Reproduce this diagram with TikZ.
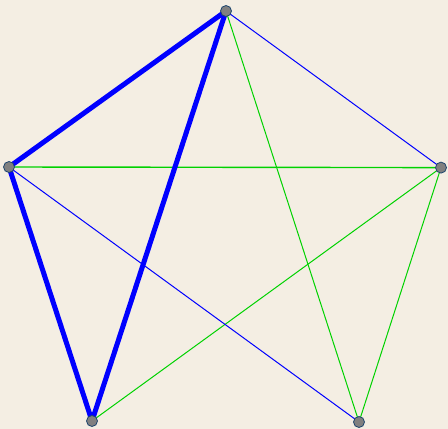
\documentclass[tikz,border=0pt]{standalone}
\usetikzlibrary{backgrounds}
\definecolor{paper}{RGB}{244,238,227}
\definecolor{vfill}{RGB}{128,128,128}
\definecolor{vline}{RGB}{30,70,110}
\definecolor{edgeblue}{RGB}{0,0,255}
\definecolor{edgegreen}{RGB}{0,210,0}

\begin{document}
\begin{tikzpicture}[
  x=1pt, y=-1pt,
  vert/.style={circle, draw=vline, fill=vfill, line width=0.8pt,
               minimum size=11pt, inner sep=0pt},
  thin blue/.style={draw=edgeblue, line width=1pt},
  thick blue/.style={draw=edgeblue, line width=5pt},
  thin green/.style={draw=edgegreen, line width=1pt},
]
\useasboundingbox (0,0) rectangle (448,429);

%% vertices
\node[vert] (top)   at (226,11)  {};
\node[vert] (left)  at (9,167)   {};
\node[vert] (right) at (441,167.6) {};
\node[vert] (bl)    at (92,421)  {};
\node[vert] (br)    at (359,422) {};

%% edges
\begin{scope}[on background layer]
\fill[paper] (0,0) rectangle (448,429);
\draw[thin green] (top.center) -- (br.center);
\draw[thin green, line width=1.4pt] (left.center) -- (right.center);
\draw[thin green] (right.center) -- (bl.center);
\draw[thin green] (right.center) -- (br.center);
\draw[thin blue] (top.center) -- (right.center);
\draw[thin blue] (left.center) -- (br.center);
\draw[thick blue] (top.center) -- (left.center);
\draw[thick blue] (top.center) -- (bl.center);
\draw[thick blue] (left.center) -- (bl.center);
\end{scope}
\end{tikzpicture}
\end{document}
